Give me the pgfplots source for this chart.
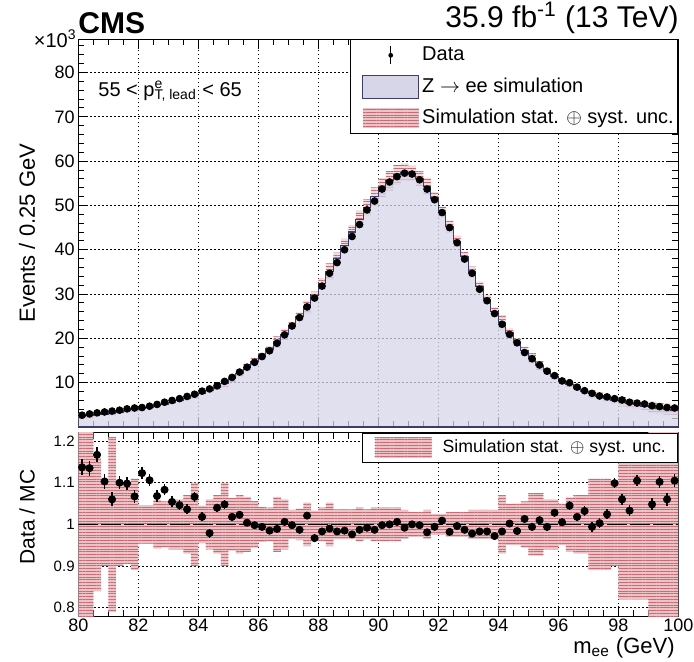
\documentclass[border=0pt]{standalone}
\usepackage{fontspec}
\setmainfont{Liberation Sans}
\usepackage{pgfplots}
\usepackage{pgfplotstable}
\pgfplotsset{compat=1.18}
\usepgfplotslibrary{fillbetween}
\usetikzlibrary{patterns.meta}

\definecolor{mcfill}{RGB}{214,214,232}
\definecolor{mcline}{RGB}{60,60,110}
\definecolor{bandred}{RGB}{205,105,115}
\definecolor{bandpink}{RGB}{236,196,200}

% x = lower bin edge (GeV), mc and data in 10^3 events, ratio = data/MC,
% e = rel. stat. error of data, u = rel. simulation stat.+syst. uncertainty
\pgfplotstableread{
x      mc     data   ratio  e      u
80.00  2.40   2.67   1.137  0.019  0.30
80.25  2.55   2.96   1.135  0.018  0.30
80.50  2.75   3.20   1.167  0.018  0.16
80.75  2.95   3.40   1.103  0.017  0.10
81.00  3.15   3.60   1.060  0.017  0.21
81.25  3.40   3.80   1.100  0.016  0.10
81.50  3.65   4.10   1.098  0.016  0.095
81.75  3.90   4.30   1.067  0.015  0.11
82.00  4.15   4.40   1.123  0.015  0.046
82.25  4.45   4.70   1.106  0.015  0.046
82.50  4.80   5.10   1.068  0.014  0.058
82.75  5.15   5.60   1.083  0.013  0.055
83.00  5.55   6.00   1.054  0.013  0.060
83.25  6.00   6.40   1.046  0.012  0.060
83.50  6.50   6.90   1.036  0.012  0.070
83.75  7.05   7.40   1.066  0.012  0.100
84.00  7.65   8.10   1.018  0.011  0.045
84.25  8.30   8.60   0.979  0.011  0.060
84.50  9.00   9.30   1.040  0.010  0.070
84.75  9.85   10.30  1.048  0.010  0.100
85.00  10.90  11.20  1.018  0.0094 0.063
85.25  12.10  12.40  1.023  0.0090 0.070
85.50  13.40  13.50  1.004  0.0086 0.066
85.75  14.70  14.60  0.998  0.0083 0.056
86.00  16.10  15.90  0.994  0.0079 0.042
86.25  17.60  17.20  0.985  0.0076 0.040
86.50  19.20  18.90  0.989  0.0073 0.066
86.75  20.90  20.80  1.006  0.0069 0.060
87.00  22.80  22.80  0.998  0.0066 0.035
87.25  24.90  24.70  0.987  0.0064 0.038
87.50  27.10  27.10  1.021  0.0061 0.052
87.75  29.60  29.10  0.967  0.0059 0.033
88.00  32.30  31.80  0.983  0.0056 0.040
88.25  35.10  34.70  0.990  0.0054 0.052
88.50  38.00  37.10  0.983  0.0052 0.036
88.75  41.00  40.00  0.985  0.0050 0.036
89.00  44.00  43.00  0.976  0.0048 0.036
89.25  46.90  45.70  0.987  0.0047 0.040
89.50  49.60  49.00  0.992  0.0045 0.036
89.75  52.00  51.00  0.987  0.0044 0.040
90.00  54.00  53.70  0.998  0.0043 0.040
90.25  55.60  55.30  1.000  0.0043 0.040
90.50  56.90  56.50  1.006  0.0042 0.040
90.75  57.50  57.30  0.992  0.0042 0.035
91.00  57.20  57.10  1.000  0.0042 0.030
91.25  56.10  55.80  0.998  0.0042 0.030
91.50  54.30  53.70  0.981  0.0043 0.035
91.75  51.70  51.30  0.994  0.0044 0.025
92.00  48.50  48.40  1.009  0.0045 0.025
92.25  45.30  45.00  0.982  0.0047 0.030
92.50  41.90  41.60  0.996  0.0049 0.030
92.75  38.40  37.90  0.987  0.0051 0.030
93.00  35.00  34.70  0.978  0.0054 0.035
93.25  31.70  31.10  0.983  0.0057 0.035
93.50  28.80  28.50  0.983  0.0059 0.035
93.75  26.10  25.60  0.972  0.0063 0.035
94.00  23.60  23.20  0.983  0.0066 0.070
94.25  21.20  20.90  1.002  0.0069 0.050
94.50  19.10  19.00  0.984  0.0073 0.050
94.75  17.20  16.80  1.013  0.0077 0.055
95.00  15.50  15.40  0.994  0.0081 0.075
95.25  13.90  14.00  1.010  0.0085 0.075
95.50  12.60  12.60  0.994  0.0089 0.060
95.75  11.40  11.60  1.028  0.0093 0.060
96.00  10.40  10.40  1.005  0.0098 0.050
96.25  9.60   10.00  1.045  0.0100 0.065
96.50  8.80   9.00   1.018  0.0105 0.070
96.75  8.10   8.20   1.032  0.0110 0.070
97.00  7.50   7.60   0.994  0.0115 0.110
97.25  7.00   7.00   1.003  0.0120 0.110
97.50  6.50   6.80   1.024  0.0121 0.110
97.75  6.00   6.40   1.099  0.0125 0.100
98.00  5.70   6.10   1.060  0.0128 0.180
98.25  5.35   5.60   1.033  0.0134 0.180
98.50  5.00   5.40   1.105  0.0136 0.180
98.75  4.70   5.20   nan    0.0139 0.180
99.00  4.45   4.80   1.048  0.0144 0.300
99.25  4.20   4.60   1.102  0.0147 0.300
99.50  4.00   4.40   1.060  0.0151 0.300
99.75  3.80   4.30   1.105  0.0152 0.300
100.00 3.80   4.30   nan    0.0152 0.300
}\histtab

\tikzset{
  bandpat/.style={draw=none, pattern={Lines[angle=0,distance=1.4pt,line width=0.5pt]}, pattern color=bandred},
  bandfill/.style={draw=none, fill=bandpink},
}

\pgfplotsset{
  cmsaxis/.style={
    scale only axis, width=300pt,
    xmin=80, xmax=100,
    xtick={80,82,...,100}, minor xtick={80.5,81,...,99.5},
    tick align=inside,
    major tick length=5pt, minor tick length=3pt,
    tick style={black, line width=0.5pt},
    axis line style={line width=0.5pt},
    grid=major,
    major grid style={black, line width=0.5pt, dash pattern=on 0.6pt off 1.4pt},
    tick label style={font=\fontsize{9}{10}\selectfont},
    /pgf/number format/assume math mode=true,
    legend cell align=left,
  },
}

\begin{document}
\begin{tikzpicture}

% ---- upper panel ----
\begin{axis}[cmsaxis,
    at={(39.15pt,-19.65pt)}, anchor=north west,
    height=193.85pt,
    ymin=0, ymax=87.5,
    ytick={10,20,...,80}, minor ytick={2,4,...,86},
    xticklabels={},
    yticklabel style={inner xsep=1.65pt},
    ylabel={Events / 0.25 GeV},
    ylabel style={font=\fontsize{11}{13}\selectfont, at={(axis description cs:-0.0855,0.5)}, anchor=center},
    legend style={at={(1,1)}, anchor=north east, draw=black, line width=0.5pt, fill=white,
      inner xsep=2pt, inner ysep=2pt, row sep=3.9pt, column sep=1.5pt,
      font=\fontsize{10}{12}\selectfont,
      nodes={inner ysep=0pt, inner xsep=0pt, text height=7.5pt, text depth=2pt}},
]
\addlegendimage{legend image code/.code={
  \path[draw=none] (0pt,-5.75pt) rectangle (32pt,5.75pt);
  \draw[black,line width=0.6pt] (18pt,-4.5pt)--(18pt,4.5pt);
  \fill[black, draw=none] (18pt,0pt) circle (1.2pt);}}
\addlegendimage{legend image code/.code={
  \path[draw=none] (0pt,-5.75pt) rectangle (32pt,5.75pt);
  \draw[fill=mcfill, draw=mcline, line width=0.5pt] (4pt,-5.75pt) rectangle (32pt,5.75pt);}}
\addlegendimage{legend image code/.code={
  \path[draw=none] (0pt,-5.75pt) rectangle (32pt,5.75pt);
  \fill[bandfill] (4pt,-5pt) rectangle (32pt,5pt);
  \fill[bandpat] (4pt,-5pt) rectangle (32pt,5pt);}}

\addplot[const plot, fill=mcfill, fill opacity=0.75, draw=mcline, line width=0.6pt, forget plot]
  table[x=x, y=mc] {\histtab} \closedcycle;
\addplot[const plot, draw=none, name path=bup, forget plot]
  table[x=x, y expr=\thisrow{mc}*(1+\thisrow{u})] {\histtab};
\addplot[const plot, draw=none, name path=bdn, forget plot]
  table[x=x, y expr=\thisrow{mc}*(1-\thisrow{u})] {\histtab};
\addplot[bandfill, fill opacity=0.6, forget plot] fill between[of=bup and bdn];
\addplot[bandpat, forget plot] fill between[of=bup and bdn];
\addplot[only marks, mark=*, mark size=1.7pt, black, forget plot, skip coords between index={80}{81}]
  table[x expr=\thisrow{x}+0.125, y=data] {\histtab};

\legend{Data, Z $\rightarrow$ ee simulation, Simulation stat. $\oplus$ syst. unc.}
\end{axis}

% ---- ratio panel ----
\begin{axis}[cmsaxis,
    at={(39.15pt,-216.35pt)}, anchor=north west,
    height=91.65pt,
    ymin=0.78, ymax=1.22,
    ytick={0.8,0.9,1,1.1,1.2}, minor ytick={0.85,0.95,1.05,1.15},
    xticklabel style={inner ysep=1.5pt},
    yticklabel style={font=\fontsize{7.5}{9}\selectfont, inner xsep=1.65pt},
    xlabel={m\textsubscript{ee} (GeV)},
    xlabel style={font=\fontsize{11}{13}\selectfont, inner sep=0pt, at={(axis description cs:0.9945,-0.205)}, anchor=base east},
    ylabel={Data / MC},
    ylabel style={font=\fontsize{10.5}{12}\selectfont, at={(axis description cs:-0.0855,0.54)}, anchor=center},
    legend style={at={(1,1)}, anchor=north east, draw=black, line width=0.5pt, fill=white,
      inner xsep=6pt, inner ysep=2.25pt, column sep=5.5pt,
      font=\fontsize{8.85}{10}\selectfont,
      nodes={inner ysep=0pt, inner xsep=0pt, text height=6.5pt, text depth=1.8pt}},
]
\addlegendimage{legend image code/.code={
  \fill[bandfill] (0pt,-5pt) rectangle (28.5pt,5pt);
  \fill[bandpat] (0pt,-5pt) rectangle (28.5pt,5pt);}}

\addplot[const plot, draw=none, name path=rup, forget plot]
  table[x=x, y expr=1+\thisrow{u}] {\histtab};
\addplot[const plot, draw=none, name path=rdn, forget plot]
  table[x=x, y expr=1-\thisrow{u}] {\histtab};
\addplot[bandfill, forget plot] fill between[of=rup and rdn];
\addplot[bandpat, forget plot] fill between[of=rup and rdn];
\addplot[black, line width=0.8pt, dash pattern=on 10pt off 1.5pt, forget plot]
  coordinates {(80,1) (100,1)};
\addplot[only marks, mark=*, mark size=1.8pt, black, forget plot, skip coords between index={80}{81},
    error bars/.cd, y dir=both, y explicit, error mark=none, error bar style={line width=0.8pt}]
  table[x expr=\thisrow{x}+0.125, y=ratio, y error=e] {\histtab};

\legend{Simulation stat. $\oplus$ syst. unc.\hspace{7pt}}
\end{axis}

% ---- labels ----
\node[anchor=base west, font=\bfseries\fontsize{15}{18}\selectfont, inner sep=0pt] at (39pt,-16.5pt) {CMS};
\node[anchor=base east, font=\fontsize{15}{18}\selectfont, inner sep=0pt] at (339.5pt,-13.5pt) {35.9 fb\textsuperscript{-1} (13 TeV)};
\node[anchor=base east, font=\fontsize{10}{12}\selectfont, inner sep=0pt] at (38.5pt,-23.5pt) {×10\textsuperscript{3}};
\node[anchor=base west, font=\fontsize{10}{12}\selectfont, inner sep=0pt] at (49pt,-48pt) {55 < p\rlap{\textsuperscript{e}}\textsubscript{T, lead} < 65};
\pgfresetboundingbox
\useasboundingbox (0,0) rectangle (347pt,-330.5pt);
\end{tikzpicture}
\end{document}
